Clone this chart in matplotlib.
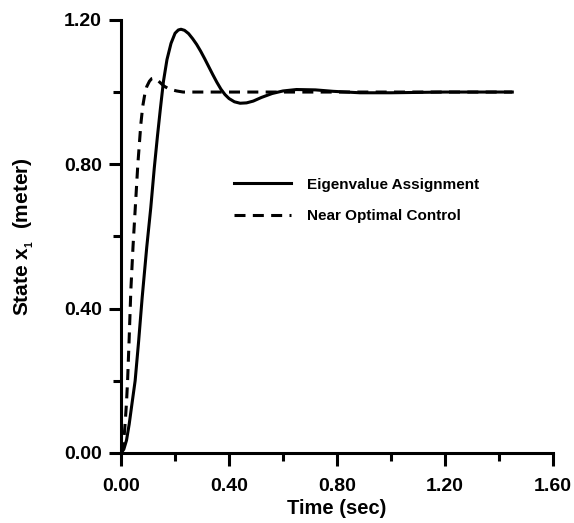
import matplotlib
matplotlib.use('Agg')
import matplotlib.pyplot as plt
from matplotlib.ticker import MultipleLocator, FormatStrFormatter

plt.rcParams['font.family'] = 'Liberation Sans'
plt.rcParams['font.weight'] = 'bold'
plt.rcParams['mathtext.fontset'] = 'custom'
plt.rcParams['mathtext.rm'] = 'Liberation Sans:bold'
plt.rcParams['mathtext.it'] = 'Liberation Sans:bold'
plt.rcParams['mathtext.bf'] = 'Liberation Sans:bold'

# eigenvalue assignment response
t_eig = [0.0, 0.01, 0.02, 0.03, 0.04, 0.052, 0.065, 0.078, 0.095, 0.11, 0.123,
         0.135, 0.145, 0.157, 0.17, 0.185, 0.2, 0.212, 0.222, 0.235, 0.25, 0.265,
         0.28, 0.295, 0.31, 0.325, 0.34, 0.355, 0.37, 0.385, 0.4, 0.42, 0.441,
         0.465, 0.49, 0.52, 0.56, 0.6, 0.65, 0.72, 0.786, 0.885, 1.0, 1.2, 1.45]
x_eig = [0.0, 0.01, 0.035, 0.08, 0.135, 0.2, 0.31, 0.43, 0.57, 0.68, 0.79,
         0.88, 0.95, 1.03, 1.09, 1.135, 1.163, 1.172, 1.174, 1.171, 1.162, 1.148,
         1.132, 1.113, 1.092, 1.07, 1.048, 1.027, 1.008, 0.993, 0.982, 0.973, 0.969,
         0.970, 0.975, 0.985, 0.996, 1.003, 1.007, 1.006, 1.002, 0.998, 0.998, 1.0, 1.0]

# near optimal control response
t_opt = [0.0, 0.005, 0.01, 0.015, 0.02, 0.024, 0.03, 0.036, 0.044, 0.052, 0.062,
         0.073, 0.08, 0.088, 0.095, 0.105, 0.113, 0.12, 0.13, 0.142, 0.158, 0.174,
         0.19, 0.206, 0.23, 0.26, 0.3, 0.4, 0.6, 1.0, 1.45]
x_opt = [0.0, 0.01, 0.035, 0.083, 0.14, 0.2, 0.32, 0.45, 0.57, 0.673, 0.8,
         0.91, 0.96, 0.995, 1.015, 1.03, 1.037, 1.038, 1.036, 1.028, 1.017, 1.01,
         1.006, 1.003, 1.0, 1.0, 1.0, 1.0, 1.0, 1.0, 1.0]

fig = plt.figure(figsize=(5.74, 5.23), dpi=100)
ax = fig.add_axes([0.211, 0.134, 0.752, 0.828])

ax.plot(t_eig, x_eig, color='black', lw=2.2, label='Eigenvalue Assignment')
ax.plot(t_opt, x_opt, color='black', lw=2.2, linestyle=(0, (3.6, 2.4)),
        label='Near Optimal Control')

ax.set_xlim(0, 1.6)
ax.set_ylim(0, 1.2)
ax.xaxis.set_major_locator(MultipleLocator(0.4))
ax.xaxis.set_minor_locator(MultipleLocator(0.2))
ax.yaxis.set_major_locator(MultipleLocator(0.4))
ax.yaxis.set_minor_locator(MultipleLocator(0.2))
ax.xaxis.set_major_formatter(FormatStrFormatter('%.2f'))
ax.yaxis.set_major_formatter(FormatStrFormatter('%.2f'))

for side in ['top', 'right']:
    ax.spines[side].set_visible(False)
for side in ['left', 'bottom']:
    ax.spines[side].set_linewidth(2.2)

ax.tick_params(which='major', length=9, width=2.2, labelsize=14, pad=5)
ax.tick_params(axis='x', which='major', pad=9)
ax.tick_params(which='minor', length=6, width=2.2)
for lab in ax.get_xticklabels() + ax.get_yticklabels():
    lab.set_fontweight('bold')

ax.set_xlabel('Time (sec)', fontsize=14.5, fontweight='bold', labelpad=3)
ax.set_ylabel('State x$_{_1}$  (meter)', fontsize=15, fontweight='bold', labelpad=20)

leg = ax.legend(loc='upper left', bbox_to_anchor=(0.23, 0.667), frameon=False,
                handlelength=3.7, handletextpad=1.1, labelspacing=1.15,
                prop={'size': 11, 'weight': 'bold'})

plt.savefig('out.png', dpi=100)
